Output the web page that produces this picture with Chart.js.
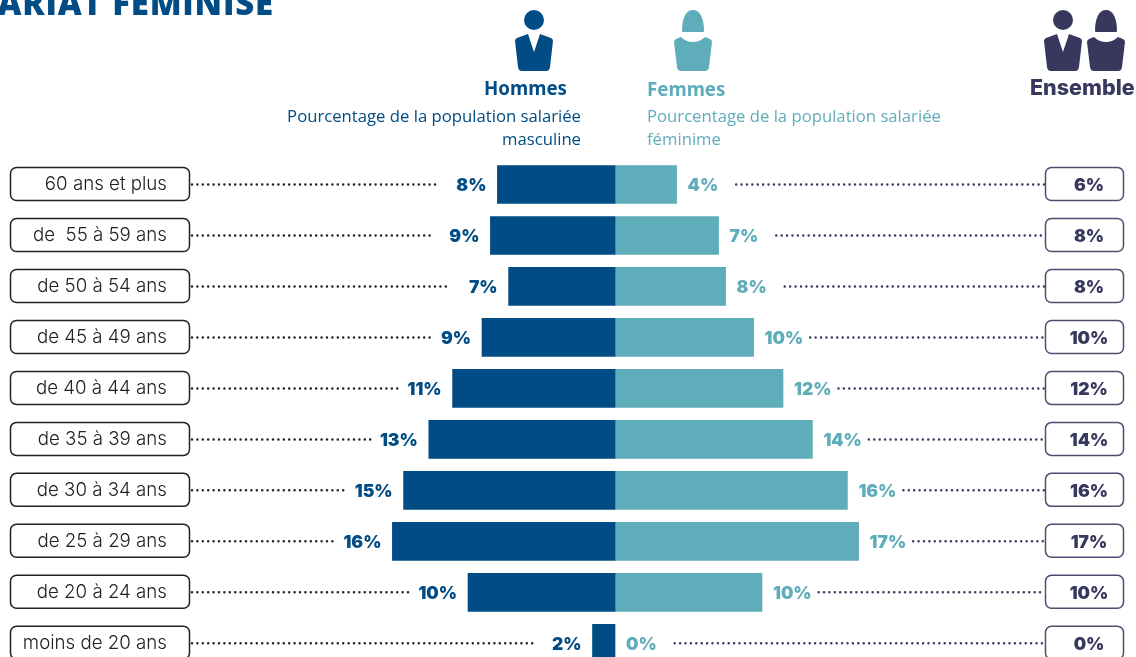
<!DOCTYPE html>
<html lang="fr">
<head>
<meta charset="utf-8">
<title>Salariat féminisé</title>
<script src="https://cdn.jsdelivr.net/npm/chart.js@4/dist/chart.umd.min.js"></script>
<style>
    html, body { margin: 0; padding: 0; background: #fff; }
    body { position: relative; width: 1136px; height: 657px; overflow: hidden; font-family: "Noto Sans", sans-serif; }
    .txt { position: absolute; white-space: nowrap; }
    #pyramide { position: absolute; left: 0; top: 0; display: block; }
    #title { right: 862px; top: -17px; font: 800 33px/40px "Open Sans", sans-serif; color: #014c84; letter-spacing: 0.8px; }
    .head { font: 700 18.7px/24px "Noto Sans", sans-serif; }
    .sub { font: 400 16.7px/23px "Open Sans", sans-serif; white-space: normal; width: 300px; }
    svg { position: absolute; top: 10px; }
</style>
</head>
<body>
<canvas id="pyramide" width="1136" height="703"></canvas>

<div class="txt" id="title">SALARIAT FÉMINISÉ</div>

<svg width="38" height="61" style="left:515px;color:#014c84"><use href="#homme"/></svg>
<svg width="38" height="61" style="left:674px;color:#5fadbb"><use href="#femme"/></svg>
<svg width="38" height="61" style="left:1044px;color:#38385e"><use href="#homme"/></svg>
<svg width="38" height="61" style="left:1087px;color:#38385e"><use href="#femme"/></svg>

<svg width="0" height="0">
    <symbol id="homme" viewBox="0 0 38 61">
        <circle cx="19" cy="10" r="10" fill="currentColor"/>
        <path fill="currentColor" d="M13,24 L19,42 L25,24 L36,28 Q38,29 38,31 L35,57 Q34.5,61 31,61 H7 Q3.5,61 3,57 L0,31 Q0,29 2,28 Z"/>
    </symbol>
    <symbol id="femme" viewBox="0 0 38 61">
        <path fill="currentColor" d="M8,21 C8,8 12,0 19,0 C26,0 30,8 30,21 Q30,22 29,22 H9 Q8,22 8,21 Z"/>
        <path fill="currentColor" d="M7,27 Q12,32 19,32 Q26,32 31,27 L36,29 Q38,30 38,32 L35,57 Q34.5,61 31,61 H7 Q3.5,61 3,57 L0,32 Q0,30 2,29 Z"/>
    </symbol>
</svg>

<div class="txt head" style="left:484px;top:76px;color:#014c84">Hommes</div>
<div class="txt sub" style="left:281px;top:104px;text-align:right;color:#014c84">Pourcentage de la population salariée masculine</div>
<div class="txt head" style="left:647px;top:77px;color:#5fadbb">Femmes</div>
<div class="txt sub" style="left:647px;top:104px;color:#5fadbb">Pourcentage de la population salariée féminime</div>
<div class="txt" style="left:1030px;top:75px;font:800 21.5px/24px Inter,sans-serif;color:#38385e">Ensemble</div>

<script>
    // Tranches d'age, du haut vers le bas
    const categories = ['60 ans et plus', 'de  55 à 59 ans', 'de 50 à 54 ans', 'de 45 à 49 ans', 'de 40 à 44 ans',
        'de 35 à 39 ans', 'de 30 à 34 ans', 'de 25 à 29 ans', 'de 20 à 24 ans', 'moins de 20 ans'];

    // Longueur des barres (% , hommes vers la gauche)
    const hommes = [-8.4, -8.9, -7.6, -9.5, -11.6, -13.3, -15.1, -15.9, -10.5, -1.6];
    const femmes = [4.4, 7.4, 7.9, 9.9, 12, 14.1, 16.6, 17.4, 10.5, 0];

    // Etiquettes affichees
    const hommesLabels = ['8%', '9%', '7%', '9%', '11%', '13%', '15%', '16%', '10%', '2%'];
    const femmesLabels = ['4%', '7%', '8%', '10%', '12%', '14%', '16%', '17%', '10%', '0%'];
    const ensembleLabels = ['6%', '8%', '8%', '10%', '12%', '14%', '16%', '17%', '10%', '0%'];

    const BLUE = '#014c84', TEAL = '#5fadbb', DARK = '#38385e';
    const VALUE_FONT = '900 17.5px Inter, sans-serif';

    // Les pointilles s'arretent plus pres de l'etiquette sur les longues barres
    const dotGap = (v) => (Math.abs(v) > 9 ? 7 : 18);

    const roundBox = (ctx, x, y, w, h, color) => {
        ctx.beginPath();
        ctx.roundRect(x, y, w, h, 6);
        ctx.fillStyle = '#fff';
        ctx.fill();
        ctx.lineWidth = 1.5;
        ctx.strokeStyle = color;
        ctx.stroke();
    };

    const dots = (ctx, x1, x2, y, color) => {
        ctx.beginPath();
        ctx.setLineDash([0, 5.4]);
        ctx.lineCap = 'round';
        ctx.lineWidth = 2.5;
        ctx.strokeStyle = color;
        ctx.moveTo(x1, y);
        ctx.lineTo(x2, y);
        ctx.stroke();
        ctx.setLineDash([]);
    };

    // Cadres des tranches d'age (sous les ticks de l'axe)
    const cadres = {
        id: 'cadres',
        beforeDraw: (chart) => {
            const { ctx, scales: { y } } = chart;
            ctx.save();
            categories.forEach((c, i) => {
                roundBox(ctx, 10.5, y.getPixelForValue(i) - 17, 179, 33, '#222');
            });
            ctx.restore();
        }
    };

    // Pointilles, valeurs et colonne Ensemble
    const annotations = {
        id: 'annotations',
        afterDatasetsDraw: (chart) => {
            const { ctx, scales } = chart;
            ctx.save();
            ctx.font = VALUE_FONT;
            ctx.textBaseline = 'middle';
            categories.forEach((c, i) => {
                const y = scales.y.getPixelForValue(i);

                const xh = scales.x.getPixelForValue(hommes[i]) - 11;
                dots(ctx, 192, xh - ctx.measureText(hommesLabels[i]).width - dotGap(hommes[i]), y, '#222');
                ctx.fillStyle = BLUE;
                ctx.textAlign = 'right';
                ctx.fillText(hommesLabels[i], xh, y + 1);

                const xf = scales.x.getPixelForValue(femmes[i]) + 11;
                dots(ctx, xf + ctx.measureText(femmesLabels[i]).width + dotGap(femmes[i]), 1045, y, DARK);
                ctx.fillStyle = TEAL;
                ctx.textAlign = 'left';
                ctx.fillText(femmesLabels[i], xf, y + 1);

                roundBox(ctx, 1045.5, y - 17, 78, 33, '#4d4d72');
                ctx.fillStyle = DARK;
                ctx.textAlign = 'center';
                ctx.fillText(ensembleLabels[i], 1089, y + 1);
            });
            ctx.restore();
        }
    };

    new Chart(document.getElementById('pyramide'), {
        type: 'bar',
        data: {
            labels: categories,
            datasets: [
                { label: 'Hommes', data: hommes, backgroundColor: BLUE, barThickness: 38 },
                { label: 'Femmes', data: femmes, backgroundColor: TEAL, barThickness: 38 }
            ]
        },
        options: {
            indexAxis: 'y',
            responsive: false,
            animation: false,
            layout: { padding: { top: 159, left: 0, right: 0, bottom: 0 } },
            plugins: { legend: { display: false }, tooltip: { enabled: false } },
            scales: {
                x: {
                    stacked: true,
                    display: false,
                    min: -30.357,
                    max: 37.214
                },
                y: {
                    stacked: true,
                    grid: { display: false, drawTicks: false },
                    border: { display: false },
                    afterFit: (scale) => { scale.width = 190; },
                    ticks: {
                        autoSkip: false,
                        padding: 23,
                        color: '#222',
                        font: { family: 'Inter', size: 18.7, weight: '300' }
                    }
                }
            }
        },
        plugins: [cadres, annotations]
    });
</script>
</body>
</html>
